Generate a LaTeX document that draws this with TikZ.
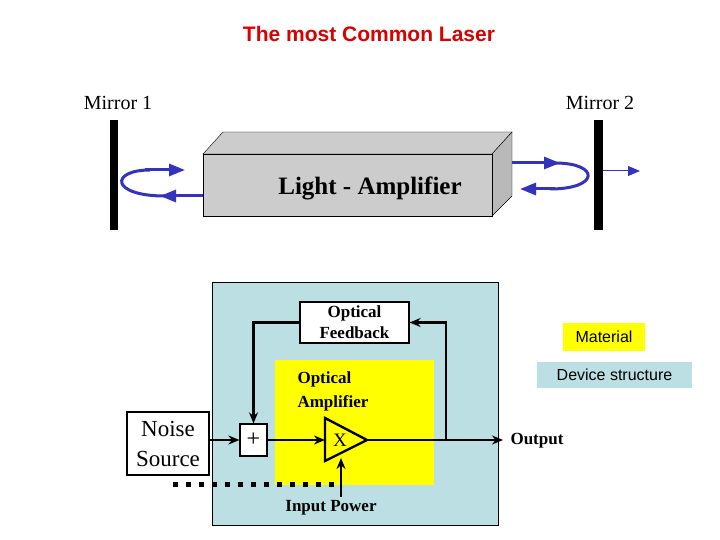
\documentclass[tikz,border=0pt]{standalone}
\usepackage{fontspec}
\setmainfont{Liberation Serif}
\newfontfamily\sans{Liberation Sans}
\usetikzlibrary{arrows.meta}
\definecolor{lblue}{HTML}{BCDFE3}
\definecolor{lyel}{HTML}{FFFF00}
\definecolor{raycol}{HTML}{3333BB}
\begin{document}
\begin{tikzpicture}[x=1pt,y=-1pt,
  ray/.style={draw=raycol,line width=3pt,-{Triangle[length=16pt,width=12pt]}},
  sig/.style={black,line width=2.4pt,-{Stealth[length=11pt,width=9pt]}},
  lbl/.style={inner sep=2pt,font=\sans\fontsize{16}{16}\selectfont}]
\useasboundingbox (0,0) rectangle (720,540);
\node[font=\sans\bfseries\fontsize{21}{21}\selectfont,text=red!85!black] (title) at (369,34) {The most Common Laser};
\node[font=\fontsize{20}{20}\selectfont] (m1t) at (118,103) {Mirror 1};
\node[font=\fontsize{20}{20}\selectfont] (m2t) at (600,103) {Mirror 2};
\fill (110,120) rectangle (118,230);
\fill (594,120) rectangle (603,230);
% box
\draw[fill=gray!40] (203,154) -- (223,132) -- (512,132) -- (492,154) -- cycle;
\draw[fill=gray!55] (492,154) -- (512,132) -- (512,196) -- (492,216) -- cycle;
\draw[fill=gray!40] (203,154) rectangle (492,216);
\node[font=\bfseries\fontsize{25}{25}\selectfont] (amp) at (370,188) {Light - Amplifier};
% loops
\draw[ray] (203,196) -- (160,196);
\draw[ray,-] (165,196) .. controls (110,196) and (110,170) .. (150,170);
\draw[ray] (145,170) -- (185,170);
\draw[ray] (512,163) -- (560,163);
\draw[ray,-] (555,163) .. controls (600,163) and (600,189) .. (550,189);
\draw[ray] (555,189) -- (520,189);
\draw[ray,line width=1pt,-{Triangle[length=12pt,width=10pt]}] (603,171) -- (640,171);
% lower
\fill[lblue] (212,282) rectangle (498,525);
\draw (212,282) rectangle (498,525);
\fill[lyel] (275,360) rectangle (434,485);
\node[draw,fill=white,line width=1.2pt,minimum width=109pt,minimum height=41pt,align=center,inner sep=0pt,font=\bfseries\fontsize{17}{21}\selectfont] (fb) at (354.5,322.5) {Optical\\Feedback};
\node[align=left,anchor=west,font=\bfseries\fontsize{17}{24}\selectfont] (oa) at (294,391) {Optical\\Amplifier};
\node[draw,fill=white,line width=1.2pt,minimum width=82pt,minimum height=63pt,align=center,inner sep=0pt,font=\fontsize{23}{30}\selectfont] (ns) at (168,443.5) {Noise\\Source};
\node[draw,fill=white,line width=1.2pt,minimum width=27pt,minimum height=32pt,inner sep=0pt,font=\fontsize{24}{24}\selectfont] (plus) at (253.5,440) {+};
\draw[line width=2.4pt] (325,418) -- (367,440) -- (325,461) -- cycle;
\coordinate (tri) at (325,440);
\coordinate (tip) at (367,440);
\coordinate (trib) at (341,458);
\node[font=\fontsize{19}{19}\selectfont] (x) at (340,440) {X};
\coordinate (out) at (503,440);
\coordinate (fbr) at (446,440);
\draw[sig] (ns.east|-plus) -- (plus.west);
\draw[sig] (plus.east) -- (tri);
\draw[sig] (tip) -- (out);
\draw[sig] (fbr) |- (fb.east);
\draw[sig] (fb.west) -| (plus.north);
\coordinate (ipb) at (341,497);
\draw[sig] (ipb) -- (trib);
\draw[line width=5pt,dash pattern=on 5pt off 8pt] (173,484) -- (341,484);
\node[font=\bfseries\fontsize{17}{17}\selectfont] (ip) at (331,508) {Input Power};
\node[anchor=west,font=\bfseries\fontsize{17}{17}\selectfont] (ot) at (507,441) {Output};
\node[lbl,fill=lyel,minimum width=82pt,minimum height=28pt] (mat) at (604,337) {Material};
\node[lbl,fill=lblue,minimum width=155pt,minimum height=26pt] (ds) at (614.5,375) {Device structure};
\end{tikzpicture}
\end{document}
